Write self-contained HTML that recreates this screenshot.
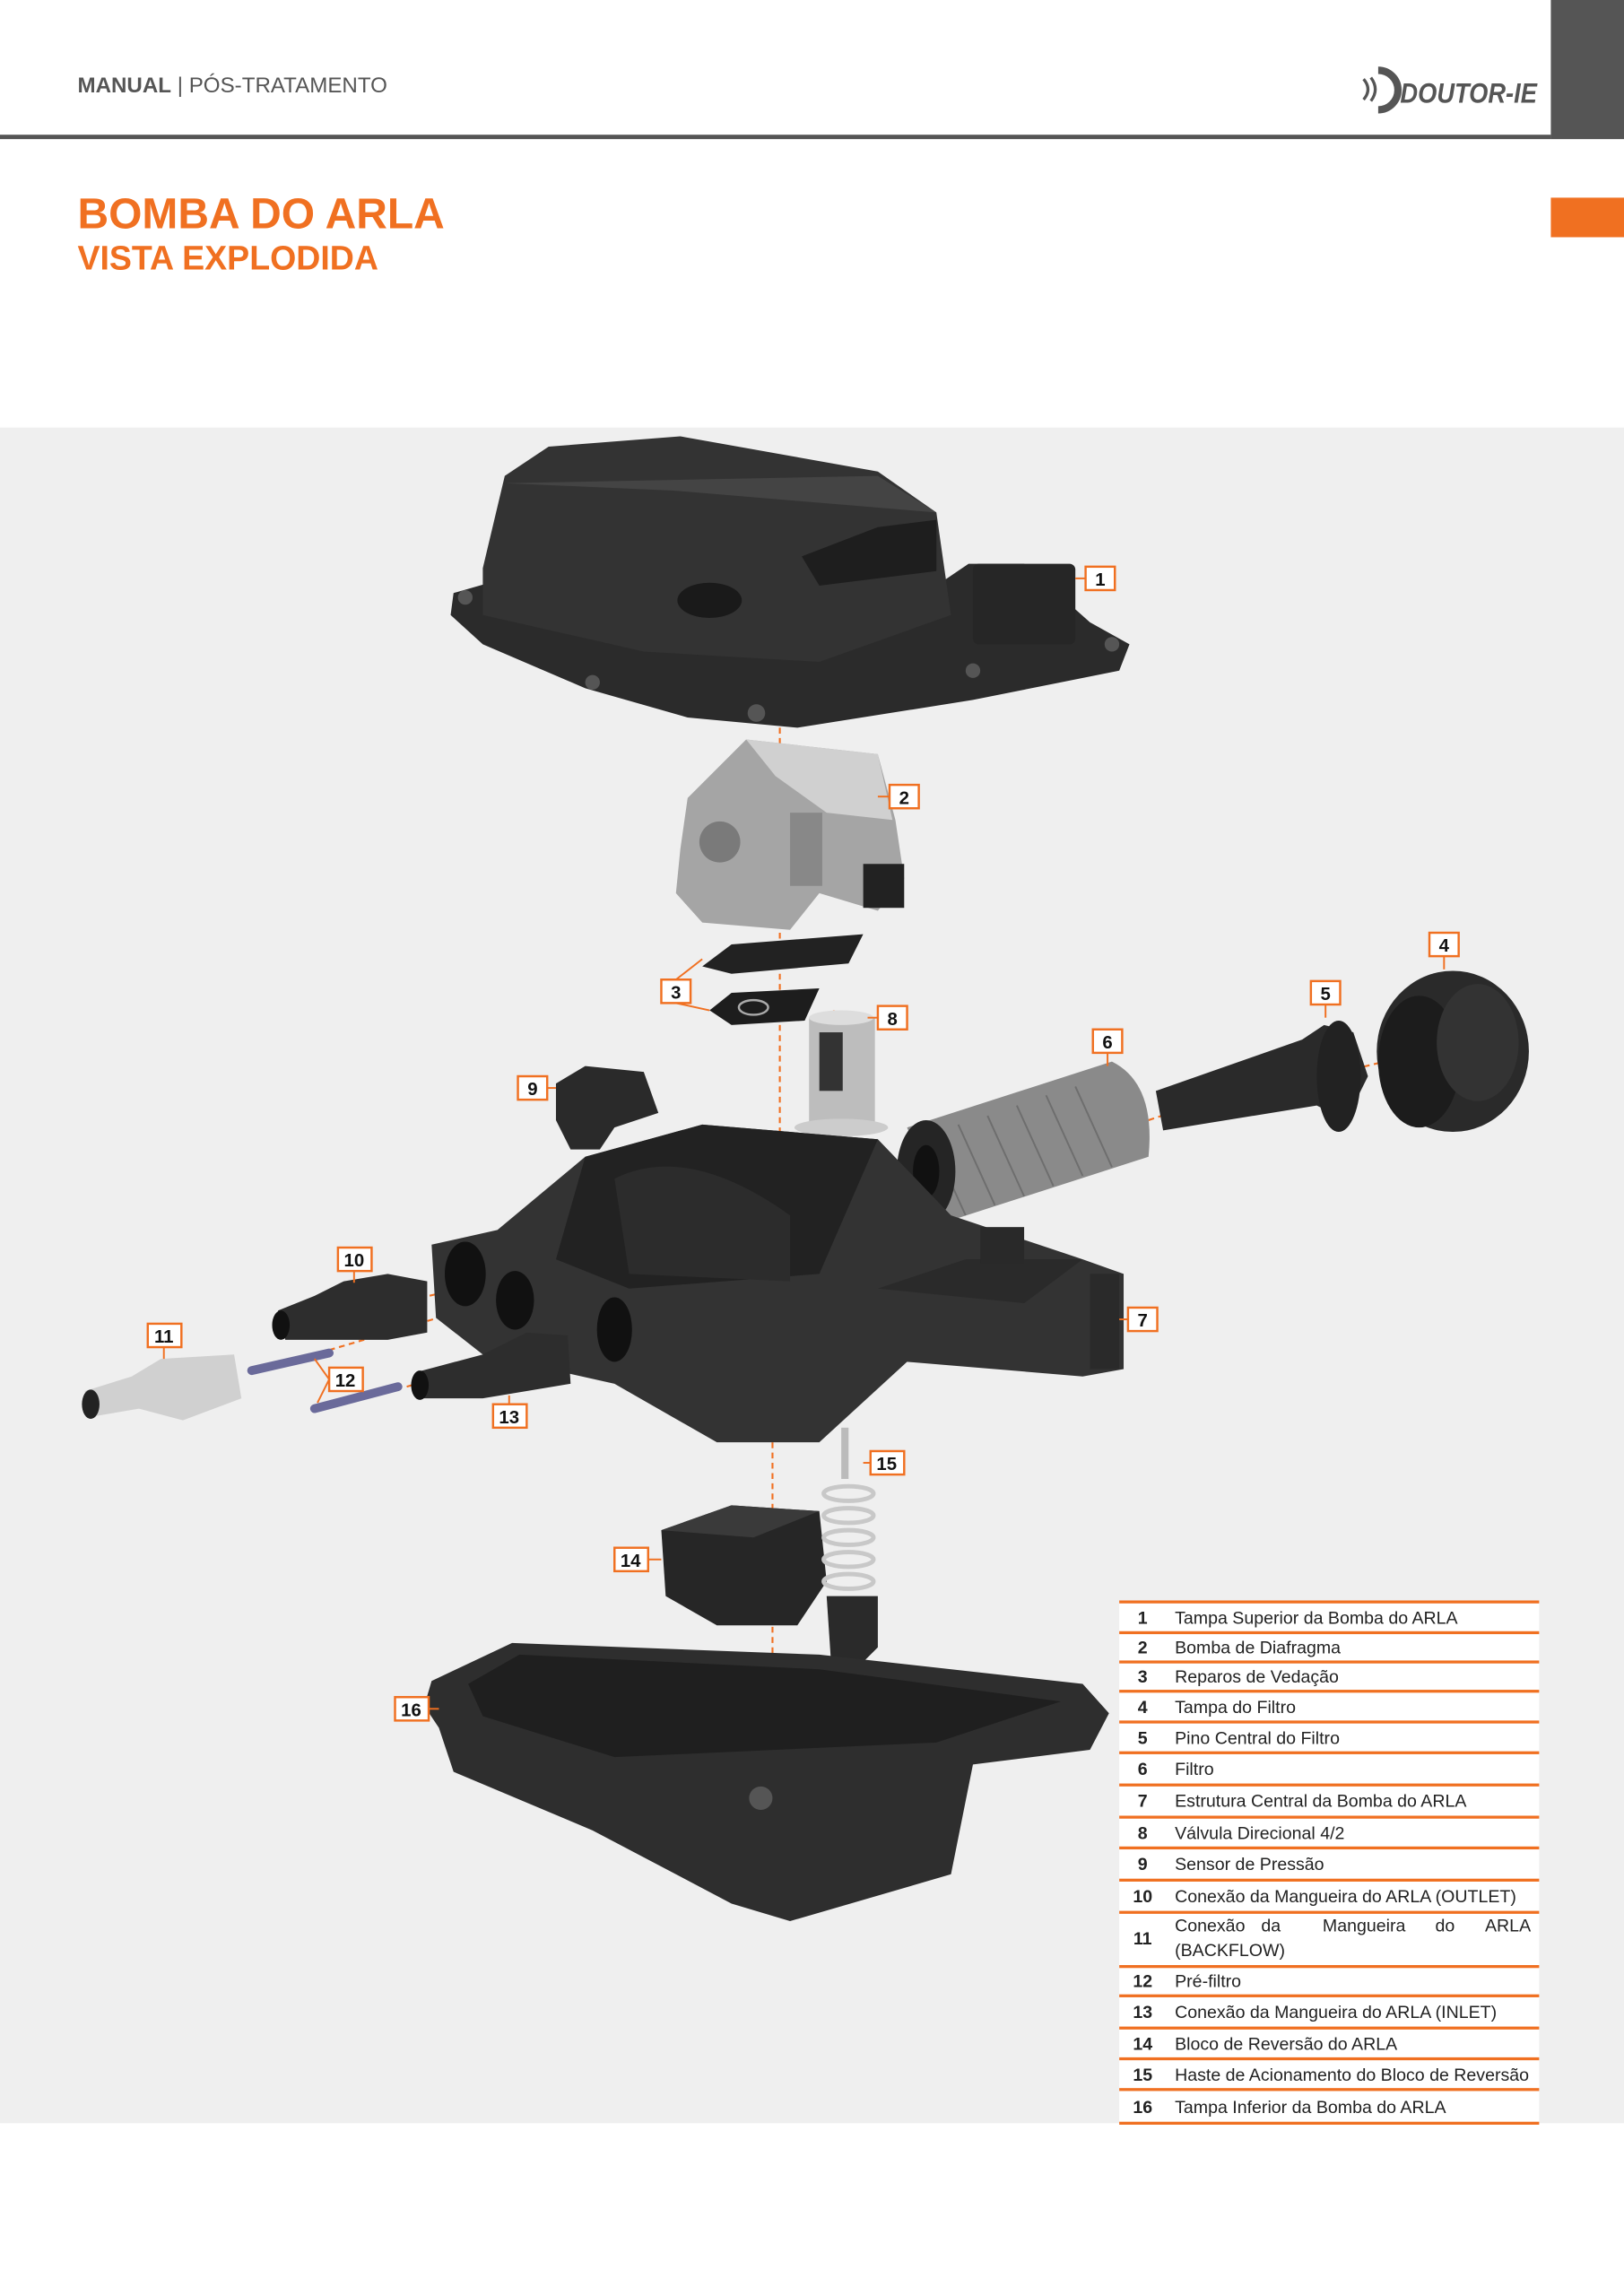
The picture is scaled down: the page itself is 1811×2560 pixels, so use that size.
<!DOCTYPE html>
<html><head><meta charset="utf-8"><style>
html,body{margin:0;padding:0;width:1811px;height:2560px;overflow:hidden;background:#fff}
svg{display:block}
</style></head><body>
<svg width="1811" height="2560" viewBox="0 0 1110 1568" preserveAspectRatio="none" font-family="Liberation Sans, Arial, sans-serif">
<rect x="0" y="0" width="1110" height="1568" fill="#fff"/>
<!-- header -->
<rect x="1060" y="0" width="50" height="95" fill="#555"/>
<rect x="0" y="92" width="1060" height="3" fill="#555"/>
<text x="53" y="63" font-size="14.8" fill="#555"><tspan font-weight="bold">MANUAL</tspan> | PÓS-TRATAMENTO</text>
<g transform="translate(928,46)">
<path d="M14 2 a13 13 0 1 1 0 27" stroke="#555" stroke-width="5" fill="none"/>
<path d="M4 8 q6 7 0 14 M9 7 q6 8 0 16" stroke="#555" stroke-width="2" fill="none"/>
<text x="33" y="24" font-size="19" font-weight="bold" font-style="italic" fill="#555" transform="scale(0.88,1)">DOUTOR-IE</text>
</g>
<rect x="1060" y="135" width="50" height="27" fill="#f07021"/>
<text x="53" y="156" font-size="29.4" font-weight="bold" fill="#f07021">BOMBA DO ARLA</text>
<text x="53" y="184" font-size="23" font-weight="bold" fill="#f07021">VISTA EXPLODIDA</text>
<!-- grey area -->
<rect x="0" y="292" width="1110" height="1158" fill="#efefef"/>

<!-- dashed lines -->
<g stroke="#f07021" stroke-width="1.3" stroke-dasharray="4,3" fill="none">
<line x1="533" y1="490" x2="533" y2="880"/>
<line x1="570" y1="690" x2="570" y2="890"/>
<line x1="403" y1="790" x2="403" y2="860"/>
<line x1="528" y1="985" x2="528" y2="1215"/>
<line x1="612" y1="800" x2="640" y2="795"/>
<line x1="785" y1="765" x2="800" y2="760"/>
<line x1="905" y1="735" x2="1000" y2="712"/>
<line x1="280" y1="888" x2="315" y2="880"/>
<line x1="225" y1="922" x2="350" y2="885"/>
<line x1="370" y1="925" x2="420" y2="905"/>
<line x1="278" y1="947" x2="285" y2="945"/>
</g>

<!-- 1 top cover -->
<path d="M310 405 L345 395 L640 400 L662 385 L700 385 L745 425 L772 440 L765 458 L665 478 L545 497 L470 490 L400 470 L330 440 L308 420Z" fill="#2b2b2b"/>
<path d="M330 388 L345 325 L375 305 L465 298 L600 322 L640 350 L650 420 L560 452 L440 445 L330 420Z" fill="#333"/>
<path d="M345 330 L600 325 L640 350 L460 335Z" fill="#444"/>
<path d="M548 380 L600 360 L640 355 L640 390 L560 400Z" fill="#1e1e1e"/>
<ellipse cx="485" cy="410" rx="22" ry="12" fill="#1a1a1a"/>
<rect x="665" y="385" width="70" height="55" rx="4" fill="#262626"/>
<g fill="#555"><circle cx="318" cy="408" r="5"/><circle cx="405" cy="466" r="5"/><circle cx="517" cy="487" r="6"/><circle cx="665" cy="458" r="5"/><circle cx="760" cy="440" r="5"/></g>

<!-- 2 pump -->
<path d="M470 545 L510 505 L600 515 L612 560 L618 600 L600 622 L560 610 L540 635 L480 630 L462 610 L465 580Z" fill="#a5a5a5"/>
<path d="M510 505 L600 515 L610 560 L565 555 L530 530Z" fill="#d0d0d0"/>
<circle cx="492" cy="575" r="14" fill="#7a7a7a"/>
<rect x="590" y="590" width="28" height="30" fill="#222"/>
<rect x="540" y="555" width="22" height="50" fill="#888"/>

<!-- 3 seals -->
<path d="M480 660 L500 645 L590 638 L580 658 L500 665Z" fill="#222"/>
<path d="M485 690 L500 678 L560 675 L550 697 L500 700Z" fill="#1d1d1d"/>
<ellipse cx="515" cy="688" rx="10" ry="5" fill="none" stroke="#aaa" stroke-width="1.5"/>

<!-- 8 valve -->
<rect x="553" y="695" width="45" height="75" fill="#bdbdbd"/>
<ellipse cx="575" cy="770" rx="32" ry="6" fill="#ccc"/>
<ellipse cx="575" cy="695" rx="22" ry="5" fill="#ddd"/>
<rect x="560" y="705" width="16" height="40" fill="#333"/>

<!-- 9 sensor -->
<path d="M380 740 L400 728 L440 732 L450 760 L420 770 L410 785 L390 785 L380 765Z" fill="#2a2a2a"/>

<!-- 6 filter -->
<path d="M620 770 L760 725 Q790 740 785 790 L645 835 Z" fill="#8a8a8a"/>
<g stroke="#6e6e6e" stroke-width="1.2">
<line x1="635" y1="775" x2="660" y2="830"/><line x1="655" y1="768" x2="680" y2="823"/><line x1="675" y1="762" x2="700" y2="817"/><line x1="695" y1="755" x2="720" y2="810"/><line x1="715" y1="748" x2="740" y2="803"/><line x1="735" y1="742" x2="760" y2="797"/></g>
<ellipse cx="633" cy="800" rx="20" ry="35" fill="#252525"/>
<ellipse cx="633" cy="800" rx="9" ry="18" fill="#111"/>

<!-- 5 pin -->
<path d="M790 745 L890 710 L905 700 L925 705 L935 735 L920 765 L900 755 L795 772Z" fill="#2a2a2a"/>
<ellipse cx="915" cy="735" rx="15" ry="38" fill="#222"/>

<!-- 4 cap -->
<ellipse cx="993" cy="718" rx="52" ry="55" fill="#2a2a2a"/>
<ellipse cx="970" cy="725" rx="28" ry="45" fill="#1c1c1c"/>
<ellipse cx="1010" cy="712" rx="28" ry="40" fill="#333"/>

<!-- 7 central body -->
<path d="M340 840 L400 790 L480 768 L600 778 L650 830 L740 860 L768 870 L768 935 L740 940 L620 930 L560 985 L490 985 L420 945 L330 925 L298 900 L295 850Z" fill="#333"/>
<path d="M400 790 L480 768 L600 778 L560 870 L430 880 L380 860Z" fill="#222"/>
<path d="M420 805 Q470 780 540 830 L540 875 L430 870Z" fill="#2c2c2c"/>
<path d="M600 880 L660 860 L740 860 L700 890Z" fill="#2a2a2a"/>
<ellipse cx="318" cy="870" rx="14" ry="22" fill="#111"/>
<ellipse cx="352" cy="888" rx="13" ry="20" fill="#111"/>
<ellipse cx="420" cy="908" rx="12" ry="22" fill="#111"/>
<rect x="745" y="870" width="20" height="65" fill="#2a2a2a"/>
<rect x="670" y="838" width="30" height="25" fill="#292929"/>

<!-- 10 outlet -->
<path d="M190 895 L215 885 L235 875 L265 870 L292 875 L292 910 L265 915 L240 915 L195 915Z" fill="#2d2d2d"/>
<ellipse cx="192" cy="905" rx="6" ry="10" fill="#111"/>
<!-- 13 inlet -->
<path d="M285 937 L330 925 L360 910 L388 912 L390 945 L360 950 L330 955 L287 955Z" fill="#2d2d2d"/>
<ellipse cx="287" cy="946" rx="6" ry="10" fill="#111"/>
<!-- 11 backflow -->
<path d="M58 950 L90 940 L110 928 L160 925 L165 955 L125 970 L95 962 L60 968Z" fill="#d0d0d0"/>
<ellipse cx="62" cy="959" rx="6" ry="10" fill="#222"/>
<!-- 12 rods -->
<line x1="172" y1="936" x2="225" y2="924" stroke="#6a6a9a" stroke-width="6" stroke-linecap="round"/>
<line x1="215" y1="962" x2="272" y2="947" stroke="#6a6a9a" stroke-width="6" stroke-linecap="round"/>

<!-- 14 block -->
<path d="M452 1045 L500 1028 L560 1032 L565 1080 L545 1110 L490 1110 L455 1090Z" fill="#262626"/>
<path d="M452 1045 L500 1028 L560 1032 L515 1050Z" fill="#3a3a3a"/>
<!-- 15 spring -->
<rect x="575" y="975" width="5" height="35" fill="#bbb"/>
<g fill="none" stroke="#c8c8c8" stroke-width="3">
<ellipse cx="580" cy="1020" rx="17" ry="5"/><ellipse cx="580" cy="1035" rx="17" ry="5"/><ellipse cx="580" cy="1050" rx="17" ry="5"/><ellipse cx="580" cy="1065" rx="17" ry="5"/><ellipse cx="580" cy="1080" rx="17" ry="5"/></g>
<path d="M565 1090 L600 1090 L600 1125 L590 1135 L568 1135Z" fill="#2a2a2a"/>

<!-- 16 bottom tray -->
<path d="M295 1148 L350 1122 L560 1130 L740 1150 L758 1170 L745 1195 L665 1205 L650 1280 L540 1312 L500 1300 L405 1250 L310 1210 L300 1180 L290 1165Z" fill="#2e2e2e"/>
<path d="M320 1150 L355 1130 L560 1140 L725 1162 L640 1190 L420 1200 L330 1172Z" fill="#1f1f1f"/>
<circle cx="520" cy="1228" r="8" fill="#555"/>

<!-- labels -->
<g font-size="12.5" font-weight="bold" fill="#111" text-anchor="middle">
<g stroke="#f07021" stroke-width="1.5" fill="#fff">
<rect x="742" y="387" width="20" height="16"/><rect x="608" y="536" width="20" height="16"/><rect x="452" y="669" width="20" height="16"/><rect x="977" y="637" width="20" height="16"/><rect x="896" y="670" width="20" height="16"/><rect x="747" y="703" width="20" height="16"/><rect x="771" y="893" width="20" height="16"/><rect x="600" y="687" width="20" height="16"/><rect x="354" y="735" width="20" height="16"/><rect x="231" y="852" width="23" height="16"/><rect x="101" y="904" width="23" height="16"/><rect x="225" y="934" width="23" height="16"/><rect x="337" y="959" width="23" height="16"/><rect x="420" y="1057" width="23" height="16"/><rect x="595" y="991" width="23" height="16"/><rect x="270" y="1159" width="23" height="16"/>
</g>
<text x="752" y="400">1</text><text x="618" y="549">2</text><text x="462" y="682">3</text><text x="987" y="650">4</text><text x="906" y="683">5</text><text x="757" y="716">6</text><text x="781" y="906">7</text><text x="610" y="700">8</text><text x="364" y="748">9</text><text x="242" y="865">10</text><text x="112" y="917">11</text><text x="236" y="947">12</text><text x="348" y="972">13</text><text x="431" y="1070">14</text><text x="606" y="1004">15</text><text x="281" y="1172">16</text>
</g>
<g stroke="#f07021" stroke-width="1.2">
<line x1="735" y1="395" x2="742" y2="395"/><line x1="600" y1="544" x2="608" y2="544"/><line x1="987" y1="653" x2="987" y2="662"/><line x1="906" y1="686" x2="906" y2="695"/><line x1="757" y1="719" x2="757" y2="728"/><line x1="765" y1="901" x2="771" y2="901"/><line x1="593" y1="695" x2="600" y2="695"/><line x1="374" y1="743" x2="380" y2="743"/><line x1="242" y1="868" x2="242" y2="876"/><line x1="112" y1="920" x2="112" y2="928"/><line x1="348" y1="959" x2="348" y2="953"/><line x1="443" y1="1065" x2="452" y2="1065"/><line x1="590" y1="999" x2="595" y2="999"/><line x1="293" y1="1167" x2="300" y2="1167"/>
<line x1="462" y1="669" x2="480" y2="655"/><line x1="462" y1="685" x2="485" y2="690"/>
<line x1="225" y1="942" x2="215" y2="928"/><line x1="225" y1="942" x2="217" y2="958"/>
</g>

<!-- legend -->
<rect x="765" y="1094" width="287" height="356" fill="#fff"/>
<g fill="#f07021">
<rect x="765" y="1093" width="287" height="2"/><rect x="765" y="1114" width="287" height="2"/><rect x="765" y="1134" width="287" height="2"/><rect x="765" y="1154" width="287" height="2"/><rect x="765" y="1175" width="287" height="2"/><rect x="765" y="1196" width="287" height="2"/><rect x="765" y="1218" width="287" height="2"/><rect x="765" y="1240" width="287" height="2"/><rect x="765" y="1261" width="287" height="2"/><rect x="765" y="1283" width="287" height="2"/><rect x="765" y="1305" width="287" height="2"/><rect x="765" y="1342" width="287" height="2"/><rect x="765" y="1362" width="287" height="2"/><rect x="765" y="1384" width="287" height="2"/><rect x="765" y="1405" width="287" height="2"/><rect x="765" y="1426" width="287" height="2"/><rect x="765" y="1449" width="287" height="2"/>
</g>
<g font-size="12" fill="#222">
<g font-weight="bold" text-anchor="middle">
<text x="781" y="1109">1</text><text x="781" y="1129">2</text><text x="781" y="1149">3</text><text x="781" y="1170">4</text><text x="781" y="1191">5</text><text x="781" y="1212">6</text><text x="781" y="1234">7</text><text x="781" y="1256">8</text><text x="781" y="1277">9</text><text x="781" y="1299">10</text><text x="781" y="1328">11</text><text x="781" y="1357">12</text><text x="781" y="1378">13</text><text x="781" y="1400">14</text><text x="781" y="1421">15</text><text x="781" y="1443">16</text>
</g>
<text x="803" y="1109">Tampa Superior da Bomba do ARLA</text>
<text x="803" y="1129">Bomba de Diafragma</text>
<text x="803" y="1149">Reparos de Vedação</text>
<text x="803" y="1170">Tampa do Filtro</text>
<text x="803" y="1191">Pino Central do Filtro</text>
<text x="803" y="1212">Filtro</text>
<text x="803" y="1234">Estrutura Central da Bomba do ARLA</text>
<text x="803" y="1256">Válvula Direcional 4/2</text>
<text x="803" y="1277">Sensor de Pressão</text>
<text x="803" y="1299">Conexão da Mangueira do ARLA (OUTLET)</text>
<text x="803" y="1319">Conexão</text><text x="862" y="1319">da</text><text x="904" y="1319">Mangueira</text><text x="981" y="1319">do</text><text x="1015" y="1319">ARLA</text>
<text x="803" y="1336">(BACKFLOW)</text>
<text x="803" y="1357">Pré-filtro</text>
<text x="803" y="1378">Conexão da Mangueira do ARLA (INLET)</text>
<text x="803" y="1400">Bloco de Reversão do ARLA</text>
<text x="803" y="1421">Haste de Acionamento do Bloco de Reversão</text>
<text x="803" y="1443">Tampa Inferior da Bomba do ARLA</text>
</g>
</svg>
</body></html>
